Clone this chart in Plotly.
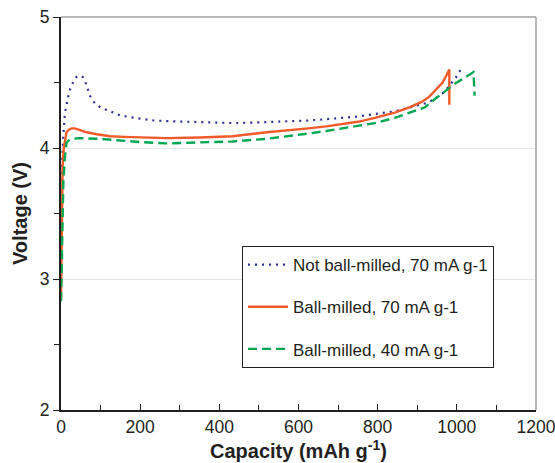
import plotly.graph_objects as go

# Not ball-milled, 70 mA g-1
cap_nbm = [0, 2, 4, 6, 10, 14, 18, 22, 27, 33, 38, 43, 50, 56, 61, 65, 69, 73, 80, 90, 100, 115, 130, 149, 175, 200, 235, 267, 310, 351, 400, 440, 490, 540, 580, 625, 670, 710, 750, 793, 820, 843, 865, 880, 900, 919, 935, 952, 965, 977, 988, 998, 1008, 1012]
v_nbm = [3.75, 3.9, 4.0, 4.1, 4.27, 4.34, 4.39, 4.44, 4.48, 4.52, 4.54, 4.55, 4.55, 4.54, 4.51, 4.47, 4.43, 4.40, 4.36, 4.33, 4.31, 4.29, 4.27, 4.25, 4.235, 4.225, 4.21, 4.205, 4.2, 4.195, 4.19, 4.19, 4.195, 4.20, 4.205, 4.21, 4.22, 4.23, 4.24, 4.26, 4.27, 4.28, 4.295, 4.31, 4.325, 4.34, 4.36, 4.39, 4.42, 4.46, 4.50, 4.54, 4.59, 4.61]

# Ball-milled, 70 mA g-1
cap_bm70 = [0, 2, 4, 7, 10, 14, 20, 27, 35, 45, 65, 90, 124, 160, 200, 267, 351, 433, 520, 580, 625, 670, 710, 750, 793, 843, 880, 910, 930, 943, 955, 964, 973, 981, 981]
v_bm70 = [2.85, 3.5, 3.85, 4.0, 4.07, 4.12, 4.14, 4.15, 4.15, 4.14, 4.12, 4.105, 4.09, 4.085, 4.08, 4.075, 4.08, 4.09, 4.12, 4.135, 4.15, 4.165, 4.18, 4.2, 4.23, 4.27, 4.31, 4.35, 4.39, 4.43, 4.47, 4.5, 4.55, 4.6, 4.33]

# Ball-milled, 40 mA g-1
cap_bm40 = [0, 3, 6, 10, 14, 20, 27, 45, 65, 100, 138, 200, 267, 351, 433, 520, 580, 625, 670, 710, 750, 793, 843, 893, 919, 943, 960, 977, 995, 1011, 1027, 1042, 1045]
v_bm40 = [2.83, 3.4, 3.75, 3.93, 4.04, 4.06, 4.07, 4.075, 4.075, 4.07, 4.06, 4.045, 4.035, 4.04, 4.05, 4.07, 4.09, 4.11, 4.13, 4.15, 4.17, 4.19, 4.23, 4.28, 4.31, 4.37, 4.41, 4.45, 4.49, 4.52, 4.55, 4.58, 4.40]

x_ticks = [0, 200, 400, 600, 800, 1000, 1200]
y_ticks = [2, 3, 4, 5]

fig = go.Figure()
fig.add_trace(go.Scatter(x=cap_nbm, y=v_nbm, mode="lines", name="Not ball-milled, 70 mA g-1",
                         line=dict(color="#2e3192", width=2.2, dash="2px,5px"),
                         legendgroup="a"))
fig.add_trace(go.Scatter(x=cap_bm70, y=v_bm70, mode="lines", name="Ball-milled, 70 mA g-1",
                         line=dict(color="#f15a29", width=2.4),
                         legendgroup="b"))
fig.add_trace(go.Scatter(x=cap_bm40, y=v_bm40, mode="lines", name="Ball-milled, 40 mA g-1",
                         line=dict(color="#00a651", width=2.4, dash="9px,5px"),
                         legendgroup="c"))

fam = "Liberation Sans, Arial, sans-serif"
axis_font = dict(family=fam, size=17.5, color="#231f20")

fig.update_layout(
    width=555, height=463,
    margin=dict(l=61, r=19, t=17, b=53),
    paper_bgcolor="white", plot_bgcolor="white",
    font=axis_font,
    showlegend=True,
    legend=dict(x=0.381, y=0.417, xanchor="left", yanchor="top",
                bordercolor="#231f20", borderwidth=1, bgcolor="white",
                font=dict(family=fam, size=17, color="#231f20"),
                tracegroupgap=17, itemwidth=40),
    xaxis=dict(range=[0, 1200], tickvals=x_ticks, ticks="inside", ticklen=6, tickcolor="#231f20",
               showline=True, linecolor="#231f20", linewidth=2, showgrid=False, zeroline=False,
               automargin=False, ticklabeloverflow="allow",
               minor=dict(dtick=100, ticks="inside", ticklen=5, tickcolor="#231f20"),
               title=dict(text="<b>Capacity (mAh g<sup>-1</sup>)</b>", font=dict(family=fam, size=20, color="#231f20"), standoff=3),
               tickfont=axis_font),
    yaxis=dict(range=[2, 5], tickvals=y_ticks, ticks="outside", ticklen=6, tickcolor="#231f20",
               showline=True, linecolor="#231f20", linewidth=2, showgrid=True, gridcolor="#e6e6e6",
               gridwidth=1, zeroline=False, automargin=False, ticklabeloverflow="allow",
               minor=dict(dtick=0.5, ticks="outside", ticklen=5, tickcolor="#231f20", showgrid=False),
               title=dict(text="<b>Voltage (V)</b>", font=dict(family=fam, size=20, color="#231f20"), standoff=7),
               tickfont=axis_font),
    shapes=[
        dict(type="line", xref="paper", yref="paper", x0=0, x1=1, y0=1, y1=1, line=dict(color="#a0a0a0", width=1.5)),
        dict(type="line", xref="paper", yref="paper", x0=1, x1=1, y0=0, y1=1, line=dict(color="#a0a0a0", width=1.5)),
    ],
)

# remove the page's default 8px body margin so the figure fills the window exactly
fig.write_html("out.html", config={"displayModeBar": False},
               post_script="document.body.style.margin='0';document.body.style.overflow='hidden';")
